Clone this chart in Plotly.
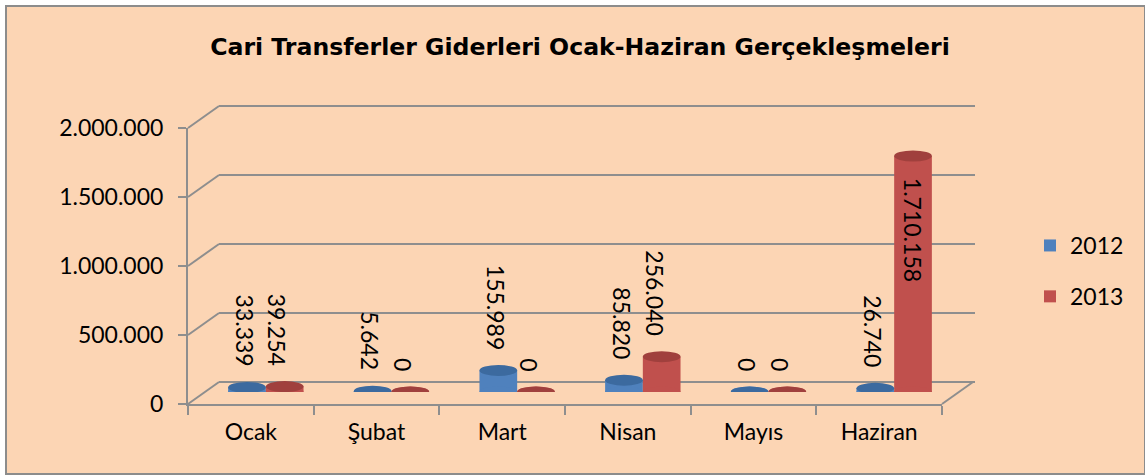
import plotly.graph_objects as go

# ---------------- data ----------------
categories = ["Ocak", "Şubat", "Mart", "Nisan", "Mayıs", "Haziran"]
values_2012 = [33339, 5642, 155989, 85820, 0, 26740]
values_2013 = [39254, 0, 0, 256040, 0, 1710158]
series_names = ["2012", "2013"]
y_tick_values = [0, 500000, 1000000, 1500000, 2000000]
y_max = 2000000
title_text = "Cari Transferler Giderleri Ocak-Haziran Gerçekleşmeleri"

# ---------------- styling ----------------
W, H = 1145, 476
BG = "#FCD5B4"
GRID = "#8E8E8E"
BODY = ["#4F81BD", "#C0504D"]
CAP = ["#3C6A9F", "#A0403D"]
FONT = "Lato, Carlito, Calibri, sans-serif"


def px_x(x):
    return x / W


def px_y(y):
    return (H - y) / H


# front plane pixel geometry
FL, FR, FY0, FYT = 188, 942, 404, 128
BDX, BDY = 31, 22      # back wall offset
MDX, MDY = 15, 12      # bar plane offset
SCALE = (FY0 - FYT) / y_max   # px per unit
PADV = 40000                  # range padding so edge gridlines are drawn

fig = go.Figure()

# invisible helpers so the back wall and front frame subplots are drawn
fig.add_trace(go.Scatter(x=categories, y=values_2012, mode="none",
                         xaxis="x", yaxis="y", hoverinfo="skip",
                         showlegend=False))
fig.add_trace(go.Scatter(x=categories, y=values_2012, mode="none",
                         xaxis="x2", yaxis="y2", hoverinfo="skip",
                         showlegend=False))

series = [values_2012, values_2013]
for i, (name, vals) in enumerate(zip(series_names, series)):
    fig.add_trace(go.Bar(
        x=categories, y=vals, name=name, xaxis="x3", yaxis="y3",
        marker=dict(color=BODY[i], line=dict(width=0)),
        legendgroup=name, hoverinfo="skip",
    ))

shapes = []
# outer chart area
shapes.append(dict(type="rect", xref="paper", yref="paper",
                   x0=px_x(6), x1=1.0, y0=px_y(474), y1=px_y(6),
                   fillcolor=BG, line=dict(color="#8C8C8C", width=2),
                   layer="below"))


def front_y(v):
    return FY0 - v * SCALE


# left wall diagonals at every tick
for v in y_tick_values:
    shapes.append(dict(type="line", xref="paper", yref="paper",
                       x0=px_x(FL), y0=px_y(front_y(v)),
                       x1=px_x(FL + BDX), y1=px_y(front_y(v) - BDY),
                       line=dict(color=GRID, width=2), layer="below"))
# floor right edge
shapes.append(dict(type="line", xref="paper", yref="paper",
                   x0=px_x(FR), y0=px_y(FY0),
                   x1=px_x(FR + BDX), y1=px_y(FY0 - BDY),
                   line=dict(color=GRID, width=2), layer="below"))

# cylinder bottoms and tops
for i, vals in enumerate(series):
    s0, s1 = (-0.3, 0.0) if i == 0 else (0.0, 0.3)
    for c, v in zip(categories, vals):
        for anchor, col in ((0, BODY[i]), (v, CAP[i])):
            shapes.append(dict(type="circle", xref="x3", yref="y3",
                               x0=c, x1=c, x0shift=s0, x1shift=s1,
                               ysizemode="pixel", yanchor=anchor,
                               y0=-5.5, y1=5.5, fillcolor=col,
                               line=dict(width=0), layer="above"))

# data labels
annotations = []
for i, vals in enumerate(series):
    for c, v in zip(categories, vals):
        txt = f"{v:,}".replace(",", ".")
        inside = v > 0.6 * y_max
        annotations.append(dict(
            x=c, y=v, xref="x3", yref="y3", text=txt, showarrow=False,
            textangle=90, font=dict(family=FONT, size=23, color="black"),
            xanchor="center",
            yanchor="top" if inside else "bottom",
            yshift=-20 if inside else 19,
            xshift=(19 if inside else 12) if i == 1 else -21,
        ))

fig.update_layout(
    width=W, height=H, autosize=False,
    margin=dict(l=0, r=0, t=0, b=0, pad=0, autoexpand=False),
    paper_bgcolor="white", plot_bgcolor="rgba(0,0,0,0)",
    separators=",.",
    barmode="group", bargap=0.4, bargroupgap=0,
    title=dict(text=title_text, x=px_x(580), y=px_y(47),
               xanchor="center", yanchor="middle",
               font=dict(family="Comic Sans MS, DejaVu Sans", size=23.6,
                         color="black", weight="bold")),
    # back wall
    xaxis=dict(domain=[px_x(FL + BDX), px_x(FR + BDX + 2)], anchor="y",
               type="category", categoryorder="array",
               categoryarray=categories,
               range=[-0.5, 5.5], showgrid=False, zeroline=False,
               showticklabels=False, ticks="", showline=False),
    yaxis=dict(domain=[px_y(FY0 - BDY + PADV * SCALE),
                       px_y(FYT - BDY - PADV * SCALE)], anchor="x",
               range=[-PADV, y_max + PADV], tickvals=y_tick_values,
               showgrid=True, gridcolor=GRID, gridwidth=2, zeroline=False,
               showticklabels=False, ticks="", showline=False),
    # front frame
    xaxis2=dict(domain=[px_x(FL), px_x(FR)], anchor="y2", type="category",
                categoryorder="array", categoryarray=categories,
                range=[-0.5, 5.5], tickson="boundaries", ticks="outside",
                ticklen=9, tickwidth=2, tickcolor=GRID, showline=True,
                linecolor=GRID, linewidth=2, showgrid=False, zeroline=False,
                tickfont=dict(family=FONT, size=23, color="black"),
                ticklabelstandoff=6),
    yaxis2=dict(domain=[px_y(FY0), px_y(FYT)], anchor="x2",
                range=[0, y_max], tickvals=y_tick_values, tickformat=",",
                ticks="outside", ticklen=8, tickwidth=2, tickcolor=GRID,
                showline=True, linecolor=GRID, linewidth=2, showgrid=False,
                zeroline=False,
                tickfont=dict(family=FONT, size=23, color="black"),
                ticklabelstandoff=10),
    # bar plane
    xaxis3=dict(domain=[px_x(FL + MDX), px_x(FR + MDX)], anchor="y3",
                type="category", categoryorder="array",
                categoryarray=categories, range=[-0.5, 5.5], visible=False),
    yaxis3=dict(domain=[px_y(FY0 - MDY), px_y(FYT - MDY)], anchor="x3",
                range=[0, y_max], visible=False),
    legend=dict(x=px_x(1030), y=px_y(271), xanchor="left", yanchor="middle",
                bgcolor="rgba(0,0,0,0)", traceorder="grouped",
                tracegroupgap=18,
                font=dict(family=FONT, size=23, color="black")),
    shapes=shapes,
    annotations=annotations,
)

fig.write_html("out.html", config={"displayModeBar": False},
               post_script="document.body.style.margin='0';")
